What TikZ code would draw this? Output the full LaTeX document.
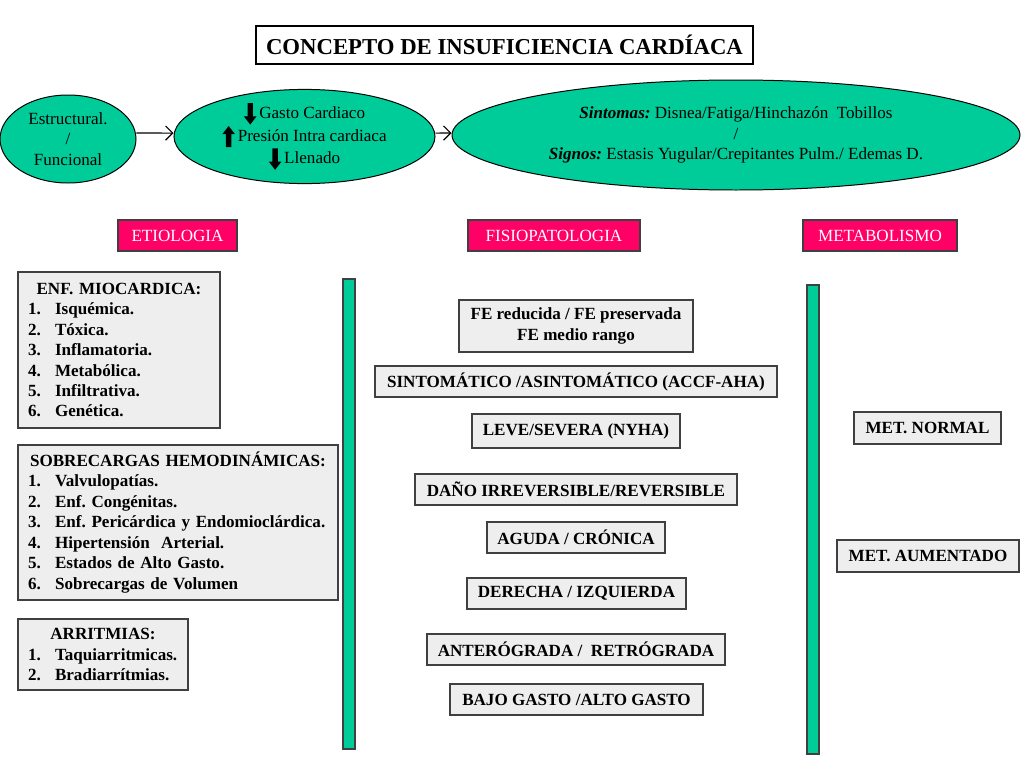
\documentclass[tikz,border=0pt]{standalone}
\usepackage{fontspec}
\setmainfont{Liberation Serif}
\usetikzlibrary{shapes.geometric,arrows.meta}
\definecolor{tealA}{HTML}{00CC99}
\definecolor{pinkA}{HTML}{FF0066}
\definecolor{grayA}{HTML}{EEEEEE}
\definecolor{edgeA}{HTML}{404040}
\frenchspacing
\def\pxu{0.703pt}
\newcommand\mydnarr{\tikz[baseline=0pt,x=1pt,y=1pt]\fill (-1.9,10.8) -- (1.9,10.8) -- (1.9,1.5) -- (4.4,1.5) -- (0,-4.2) -- (-4.4,1.5) -- (-1.9,1.5) -- cycle;}
\newcommand\myuparr{\tikz[baseline=0pt,x=1pt,y=1pt]\fill (-1.9,-3.6) -- (1.9,-3.6) -- (1.9,5.5) -- (4.4,5.5) -- (0,11.2) -- (-4.4,5.5) -- (-1.9,5.5) -- cycle;}
\newcommand\itm[2]{\mbox{\makebox[19pt][l]{#1}#2}}
\newcommand\hd[1]{\hbox to\hsize{\hfil #1\hfil}}
\tikzset{
  sz/.style 2 args={minimum width=#1*\pxu, minimum height=#2*\pxu},
  ell/.style={ellipse, draw=black, line width=0.7pt, fill=tealA, inner sep=0pt, align=center, font=\fontsize{12}{14.4}\selectfont},
  gbox/.style={draw=edgeA, line width=0.9pt, fill=grayA, inner sep=0pt, align=center, font=\bfseries\fontsize{12}{14.4}\selectfont},
  lbox/.style={gbox, align=left, inner xsep=10*\pxu},
  pbox/.style={draw=edgeA, line width=0.9pt, fill=pinkA, text=white, inner sep=0pt, font=\fontsize{12}{14.4}\selectfont},
  vbar/.style={draw=edgeA, line width=0.9pt, fill=tealA, inner sep=0pt},
  conn/.style={-{Straight Barb[length=5pt,width=10pt]}, line width=0.8pt},
}
\begin{document}
\begin{tikzpicture}[x=0.703pt,y=-0.703pt]
\fill[white] (0,0) rectangle (1024,768);
\useasboundingbox (0,0) rectangle (1024,768);

% title
\node[draw=black, line width=0.9pt, fill=white, sz={497}{38}, inner sep=0pt, font=\bfseries\fontsize{16}{19}\selectfont] (title) at (504.5,45) {CONCEPTO DE INSUFICIENCIA CARDÍACA};

% ellipses
\node[ell, sz={136}{88}] (e1) at (68,139) {Estructural.\\/\\Funcional};
\node[ell, sz={261}{93}] (e2) at (304.5,136.5) {\mydnarr\,Gasto Cardiaco\\\myuparr\,Presión Intra cardiaca\\\mydnarr\,Llenado};
\node[ell, sz={568}{110}] (e3) at (736,135) {\textbf{\textit{Sintomas:}} Disnea/Fatiga/Hinchazón\ \ Tobillos\\/\\\textbf{\textit{Signos:}} Estasis Yugular/Crepitantes Pulm./ Edemas D.};
\draw[conn] ([yshift=4.2pt]e1.east) -- ([yshift=2.4pt]e2.west);
\draw[conn] ([yshift=2.4pt]e2.east) -- ([yshift=1.4pt]e3.west);

% headers
\node[pbox, sz={119}{31}] (h1) at (177.5,235.5) {ETIOLOGIA};
\node[pbox, sz={172}{31}] (h2) at (554,235.5) {FISIOPATOLOGIA};
\node[pbox, sz={154}{31}] (h3) at (880,235.5) {METABOLISMO};

% bars
\node[vbar, sz={12}{470}] (bar1) at (349,514) {};
\node[vbar, sz={12}{469}] (bar2) at (813,519.5) {};

% etiology boxes
\node[lbox, sz={202}{156}, text width=182*\pxu] (enf) at (119,350) {\hd{ENF. MIOCARDICA:}\\
\itm{1.}{Isquémica.}\\\itm{2.}{Tóxica.}\\\itm{3.}{Inflamatoria.}\\\itm{4.}{Metabólica.}\\\itm{5.}{Infiltrativa.}\\\itm{6.}{Genética.}};
\node[lbox, sz={320}{155}, text width=300*\pxu] (sob) at (178,522.5) {\hd{SOBRECARGAS HEMODINÁMICAS:}\\
\itm{1.}{Valvulopatías.}\\\itm{2.}{Enf. Congénitas.}\\\itm{3.}{Enf. Pericárdica y Endomioclárdica.}\\\itm{4.}{Hipertensión\ \ Arterial.}\\\itm{5.}{Estados de Alto Gasto.}\\\itm{6.}{Sobrecargas de Volumen}};
\node[lbox, sz={170}{71}, text width=150*\pxu] (arr) at (103,654.5) {\hd{ARRITMIAS:}\\
\itm{1.}{Taquiarritmicas.}\\\itm{2.}{Bradiarrítmias.}};

% fisiopatologia boxes
\node[gbox, sz={234}{52}] (fe) at (576,326) {FE reducida / FE preservada\\FE medio rango};
\node[gbox, sz={402}{31}] (sin) at (576,381.5) {SINTOMÁTICO /ASINTOMÁTICO (ACCF-AHA)};
\node[gbox, sz={208}{34}] (lev) at (576,431) {LEVE/SEVERA (NYHA)};
\node[gbox, sz={322}{31}] (dan) at (576,489.5) {DAÑO IRREVERSIBLE/REVERSIBLE};
\node[gbox, sz={178}{31}] (agu) at (576,537.5) {AGUDA / CRÓNICA};
\node[gbox, sz={219}{31}] (der) at (576.5,593.5) {DERECHA / IZQUIERDA};
\node[gbox, sz={298}{31}] (ant) at (576,649.5) {ANTERÓGRADA /\ \ RETRÓGRADA};
\node[gbox, sz={253}{31}] (baj) at (576.5,699.5) {BAJO GASTO /ALTO GASTO};

% metabolismo boxes
\node[gbox, sz={147}{32}] (mn) at (927.5,428) {MET. NORMAL};
\node[gbox, sz={182}{32}] (ma) at (928,556) {MET. AUMENTADO};
\end{tikzpicture}
\end{document}
